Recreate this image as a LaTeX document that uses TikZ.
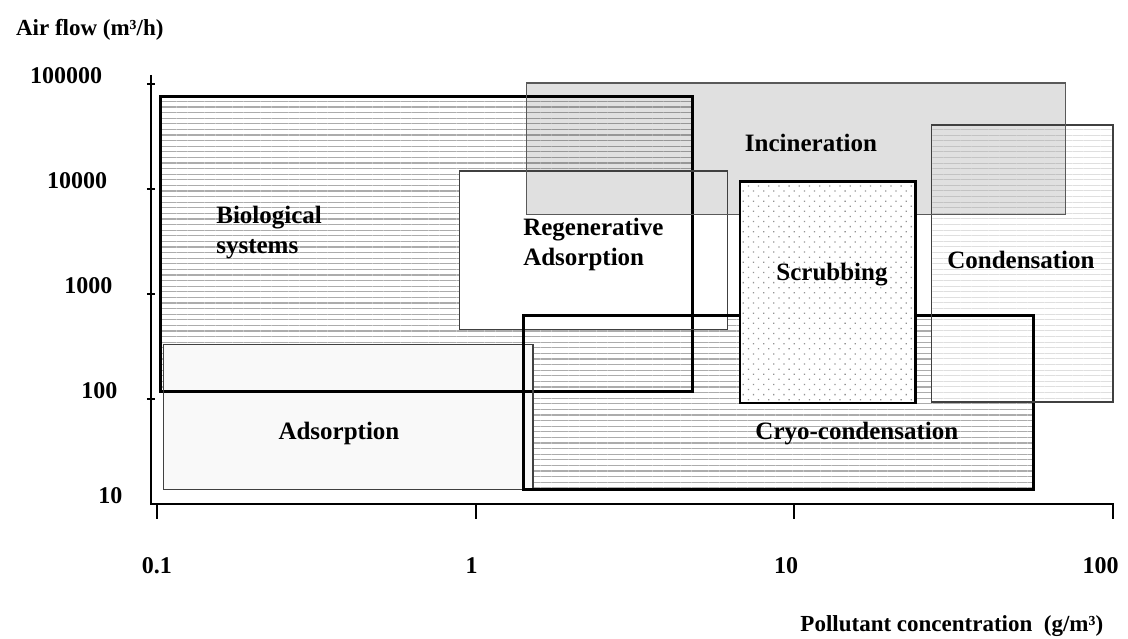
\documentclass[tikz,border=0pt]{standalone}
\usepackage{fontspec}
\setmainfont{Liberation Serif}
\usepackage{tikz}
\usetikzlibrary{patterns.meta}

\begin{document}
\begin{tikzpicture}[
  x=159.35pt, y=52.5pt,
  font=\fontsize{12.5}{15}\selectfont\bfseries,
  hatch/.style={preaction={fill=white}, pattern={Lines[angle=0,distance=2.8pt,line width=0.6pt]}, pattern color=gray!65},
  lighthatch/.style={preaction={fill=white}, pattern={Lines[angle=0,distance=2.8pt,line width=0.5pt]}, pattern color=gray!25},
  dotfill/.style={preaction={fill=white}, pattern={Dots[distance=3.6pt,radius=0.45pt,angle=45]}, pattern color=gray!85},
  thinbox/.style={draw=black!75, line width=0.7pt},
  thickbox/.style={draw=black, line width=1.5pt},
  axisline/.style={draw, line width=1pt},
  lab/.style={inner sep=0pt, align=center},
  ticklab/.style={inner sep=0pt, font=\fontsize{12}{14}\selectfont\bfseries},
  title/.style={inner sep=0pt, font=\fontsize{11.5}{14}\selectfont\bfseries}
]
\useasboundingbox (-0.4926,-1.2857) rectangle (3.0468,4.8);

% fills, back to front
\path[hatch] (0.01,1.07) rectangle (1.68,3.88);
\path[hatch] (1.15,0.14) rectangle (2.75,1.80);
\fill[gray!5] (0.02,0.14) rectangle (1.18,1.52);
\fill[white] (0.95,1.66) rectangle (1.79,3.17);
\path[lighthatch] (2.43,0.97) rectangle (3.00,3.61);
\fill[black, fill opacity=0.12] (1.16,2.76) rectangle (2.85,4.01);

% frames
\draw[thickbox] (0.01,1.07) rectangle (1.68,3.88);
\draw[thinbox] (0.02,0.14) rectangle (1.18,1.52);
\draw[thinbox] (0.95,1.66) rectangle (1.79,3.17);
\draw[thickbox] (1.15,0.14) rectangle (2.75,1.80);
\draw[thinbox] (2.43,0.97) rectangle (3.00,3.61);
\draw[thinbox, draw=black!65] (1.16,2.76) rectangle (2.85,4.01);
\path[dotfill] (1.83,0.96) rectangle (2.38,3.07);
\draw[line width=1.2pt] (1.83,0.96) rectangle (2.38,3.07);

% axes
\draw[axisline] (-0.019,4.086) -- (-0.019,0) -- (3,0) -- (3,-0.143);
\foreach \i in {0,1,2}
  \draw[axisline] (\i,0) -- (\i,-0.143);
\foreach \i in {1,2,3,4}
  \draw[axisline] (-0.032,\i) -- (-0.006,\i);

% axis labels
\node[title, anchor=west] (flowlab) at (-0.4435,4.514) {Air flow (m³/h)};
\foreach \i/\v in {0/10,1/100,2/1000,3/10000,4/100000}
  \node[ticklab, anchor=east] (ylab\i) at ({-0.107-0.016*\i},{\i+0.08}) {\v};
\foreach \i/\v in {0/0.1,1/1,2/10,3/100}
  \node[ticklab] (xlab\i) at ({\i-0.013*\i},-0.59) {\v};
\node[title] (conclab) at (2.494,-1.162) {Pollutant concentration\ \ (g/m³)};

% process names
\node[lab, anchor=west, align=left] (bio) at (0.185,2.59) {Biological\\systems};
\node[lab, anchor=west, align=left] (regen) at (1.148,2.467) {Regenerative\\Adsorption};
\node[lab] (incin) at (2.052,3.438) {Incineration};
\node[lab] (scrub) at (2.118,2.181) {Scrubbing};
\node[lab] (cond) at (2.711,2.324) {Condensation};
\node[lab] (ads) at (0.571,0.667) {Adsorption};
\node[lab] (cryo) at (2.196,0.667) {Cryo-condensation};
\end{tikzpicture}
\end{document}
